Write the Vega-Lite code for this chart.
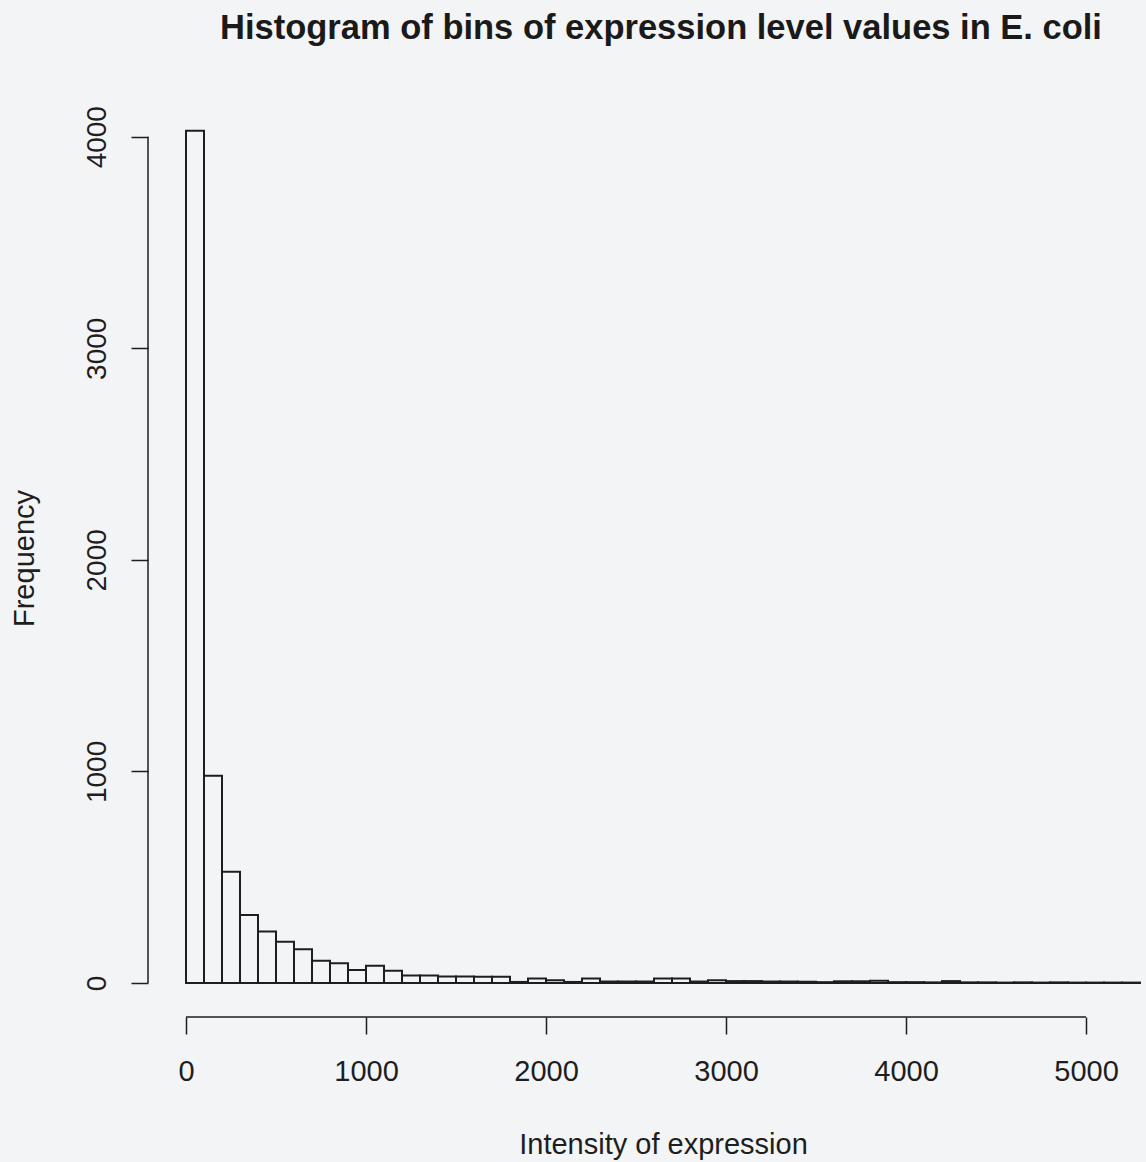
{
  "$schema": "https://vega.github.io/schema/vega-lite/v6.json",
  "autosize": "none",
  "width": 998,
  "height": 919,
  "padding": {"left": 148, "top": 98, "right": 0, "bottom": 145},
  "background": "#f3f4f5",
  "config": {
    "view": {"stroke": null},
    "font": "Liberation Sans"
  },
  "title": {
    "text": "Histogram of bins of expression level values in E. coli",
    "font": "Liberation Sans",
    "fontSize": 34.5,
    "fontWeight": "bold",
    "color": "#1a1a1a",
    "anchor": "middle",
    "frame": "group",
    "dx": 14,
    "baseline": "alphabetic",
    "offset": 25
  },
  "datasets": {
    "bins": [
      {"start": 0, "end": 100, "count": 4028},
      {"start": 100, "end": 200, "count": 980},
      {"start": 200, "end": 300, "count": 526},
      {"start": 300, "end": 400, "count": 321},
      {"start": 400, "end": 500, "count": 243},
      {"start": 500, "end": 600, "count": 195},
      {"start": 600, "end": 700, "count": 159},
      {"start": 700, "end": 800, "count": 105},
      {"start": 800, "end": 900, "count": 93},
      {"start": 900, "end": 1000, "count": 61},
      {"start": 1000, "end": 1100, "count": 82},
      {"start": 1100, "end": 1200, "count": 58},
      {"start": 1200, "end": 1300, "count": 35},
      {"start": 1300, "end": 1400, "count": 35},
      {"start": 1400, "end": 1500, "count": 31},
      {"start": 1500, "end": 1600, "count": 31},
      {"start": 1600, "end": 1700, "count": 29},
      {"start": 1700, "end": 1800, "count": 29},
      {"start": 1800, "end": 1900, "count": 5},
      {"start": 1900, "end": 2000, "count": 21},
      {"start": 2000, "end": 2100, "count": 13},
      {"start": 2100, "end": 2200, "count": 5},
      {"start": 2200, "end": 2300, "count": 21},
      {"start": 2300, "end": 2400, "count": 7},
      {"start": 2400, "end": 2500, "count": 7},
      {"start": 2500, "end": 2600, "count": 7},
      {"start": 2600, "end": 2700, "count": 21},
      {"start": 2700, "end": 2800, "count": 21},
      {"start": 2800, "end": 2900, "count": 7},
      {"start": 2900, "end": 3000, "count": 13},
      {"start": 3000, "end": 3100, "count": 9},
      {"start": 3100, "end": 3200, "count": 9},
      {"start": 3200, "end": 3300, "count": 7},
      {"start": 3300, "end": 3400, "count": 7},
      {"start": 3400, "end": 3500, "count": 6},
      {"start": 3500, "end": 3600, "count": 4},
      {"start": 3600, "end": 3700, "count": 8},
      {"start": 3700, "end": 3800, "count": 8},
      {"start": 3800, "end": 3900, "count": 11},
      {"start": 3900, "end": 4000, "count": 4},
      {"start": 4000, "end": 4100, "count": 4},
      {"start": 4100, "end": 4200, "count": 3},
      {"start": 4200, "end": 4300, "count": 9},
      {"start": 4300, "end": 4400, "count": 3},
      {"start": 4400, "end": 4500, "count": 3},
      {"start": 4500, "end": 4600, "count": 2},
      {"start": 4600, "end": 4700, "count": 3},
      {"start": 4700, "end": 4800, "count": 2},
      {"start": 4800, "end": 4900, "count": 3},
      {"start": 4900, "end": 5000, "count": 2},
      {"start": 5000, "end": 5100, "count": 2},
      {"start": 5100, "end": 5200, "count": 2},
      {"start": 5200, "end": 5300, "count": 2}
    ],
    "one": [{"k": 1}]
  },
  "layer": [
    {
      "data": {"name": "bins"},
      "mark": {"type": "bar", "fill": "#f3f4f5", "stroke": "#1e1e1e", "strokeWidth": 2, "clip": true},
      "encoding": {
        "x": {
          "field": "start", "type": "quantitative",
          "scale": {"domain": [-211.1, 5333.3], "nice": false, "zero": false},
          "axis": {
            "title": "Intensity of expression",
            "values": [0, 1000, 2000, 3000, 4000, 5000],
            "format": "d",
            "domain": false, "grid": false,
            "tickSize": 17, "tickWidth": 1.5, "tickColor": "#1e1e1e",
            "labelFont": "Liberation Sans", "labelFontSize": 29, "labelColor": "#1e1e1e",
            "labelBaseline": "alphabetic", "labelPadding": 46, "labelFlush": false, "labelOverlap": false,
            "titleFont": "Liberation Sans", "titleFontSize": 29, "titleFontWeight": "normal", "titleColor": "#1e1e1e",
            "titleBaseline": "alphabetic", "titleAlign": "center", "titleX": 515, "titleY": 136
          }
        },
        "x2": {"field": "end"},
        "y": {
          "field": "count", "type": "quantitative",
          "scale": {"domain": [-160.7, 4183], "nice": false, "zero": false},
          "axis": {
            "title": "Frequency",
            "values": [0, 1000, 2000, 3000, 4000],
            "format": "d",
            "domain": false, "grid": false,
            "tickSize": 17, "tickWidth": 1.5, "tickColor": "#1e1e1e",
            "labelFont": "Liberation Sans", "labelFontSize": 28, "labelColor": "#1e1e1e",
            "labelAngle": 270, "labelAlign": "center", "labelBaseline": "alphabetic",
            "labelPadding": 26, "labelFlush": false, "labelOverlap": false,
            "titleFont": "Liberation Sans", "titleFontSize": 29, "titleFontWeight": "normal", "titleColor": "#1e1e1e",
            "titleAngle": 270, "titleBaseline": "alphabetic", "titleAlign": "center", "titleX": -115, "titleY": 460
          }
        },
        "y2": {"datum": 0}
      }
    },
    {
      "data": {"name": "one"},
      "mark": {"type": "rule", "stroke": "#1e1e1e", "strokeWidth": 1.5},
      "encoding": {
        "x": {"datum": 0},
        "x2": {"datum": 5000},
        "y": {"datum": -160.7}
      }
    },
    {
      "data": {"name": "one"},
      "mark": {"type": "rule", "stroke": "#1e1e1e", "strokeWidth": 1.5},
      "encoding": {
        "x": {"datum": -211.1},
        "y": {"datum": 0},
        "y2": {"datum": 4000}
      }
    }
  ]
}
